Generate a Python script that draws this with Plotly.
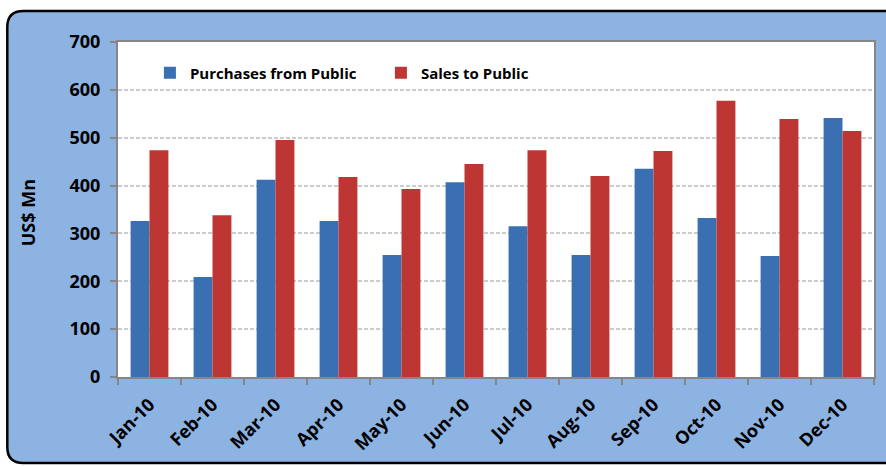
import plotly.graph_objects as go

months = ["Jan-10", "Feb-10", "Mar-10", "Apr-10", "May-10", "Jun-10",
          "Jul-10", "Aug-10", "Sep-10", "Oct-10", "Nov-10", "Dec-10"]
purchases = [326, 209, 412, 326, 255, 407, 315, 255, 435, 332, 253, 541]
sales = [474, 338, 495, 418, 393, 445, 474, 420, 472, 577, 539, 514]

FONT = "Open Sans"

fig = go.Figure()
fig.add_trace(go.Bar(x=months, y=purchases, name="Purchases from Public",
                     marker=dict(color="#3a6fb1", line=dict(width=0))))
fig.add_trace(go.Bar(x=months, y=sales, name="Sales to Public",
                     marker=dict(color="#bd3634", line=dict(width=0))))

W, H = 886, 466
L, R, T, B = 118, 10, 42, 89
pw, ph = W - L - R, H - T - B

def px(x):
    return (x - L) / pw

def py(y):
    return (H - B - y) / ph

x0, x1 = px(7), px(1000)
y0, y1 = py(463), py(11)
rx, ry = 16 / pw, 16 / ph
fill_path = (f"M {x0+rx},{y1} L {x1},{y1} L {x1},{y0} L {x0+rx},{y0} "
             f"Q {x0},{y0} {x0},{y0+ry} L {x0},{y1-ry} Q {x0},{y1} {x0+rx},{y1} Z")
border_path = (f"M {x1},{y1} L {x0+rx},{y1} Q {x0},{y1} {x0},{y1-ry} "
               f"L {x0},{y0+ry} Q {x0},{y0} {x0+rx},{y0} L {x1},{y0}")

fig.update_layout(
    width=W, height=H,
    margin=dict(l=L, r=R, t=T, b=B),
    paper_bgcolor="white",
    plot_bgcolor="rgba(0,0,0,0)",
    barmode="group",
    bargap=0.4,
    bargroupgap=0,
    font=dict(family=FONT, color="black"),
    showlegend=True,
    legend=dict(orientation="h", x=px(150), y=py(73), xanchor="left", yanchor="middle",
                font=dict(size=15, family=FONT, weight="bold"),
                bgcolor="rgba(0,0,0,0)", itemwidth=30, tracegroupgap=0,
                entrywidth=186, entrywidthmode="pixels"),
    shapes=[
        dict(type="path", xref="paper", yref="paper", path=fill_path, layer="below",
             fillcolor="#8db3e2", line=dict(width=0)),
        dict(type="path", xref="paper", yref="paper", path=border_path, layer="below",
             fillcolor="rgba(0,0,0,0)", line=dict(color="black", width=2.5)),
        dict(type="rect", xref="paper", yref="paper", x0=0, x1=1, y0=0, y1=1,
             layer="below", fillcolor="white", line=dict(width=0)),
    ],
    annotations=[
        dict(text="US$ Mn", xref="paper", yref="paper", x=px(28), y=py(213),
             textangle=-90, showarrow=False, xanchor="center", yanchor="middle",
             font=dict(size=18, family=FONT, weight="bold")),
    ],
)

fig.update_xaxes(
    type="category",
    showline=True, linecolor="#868686", linewidth=2, mirror=True,
    ticks="outside", tickson="boundaries", ticklen=6, tickcolor="#868686", tickwidth=2,
    tickangle=-45,
    tickfont=dict(size=18, family=FONT, weight="bold"),
    ticklabelstandoff=8,
    showgrid=False,
)
fig.update_yaxes(
    range=[0, 700], dtick=100,
    showline=True, linecolor="#868686", linewidth=2, mirror=True,
    ticks="outside", ticklen=6, tickcolor="#868686", tickwidth=2,
    tickfont=dict(size=18, family=FONT, weight="bold"),
    ticklabelstandoff=6,
    showgrid=True, gridcolor="#cccccc", gridwidth=2, griddash="4px,2px",
    zeroline=False,
)

fig.write_html("out.html", config={"displayModeBar": False},
               post_script="document.body.style.margin='0';")
